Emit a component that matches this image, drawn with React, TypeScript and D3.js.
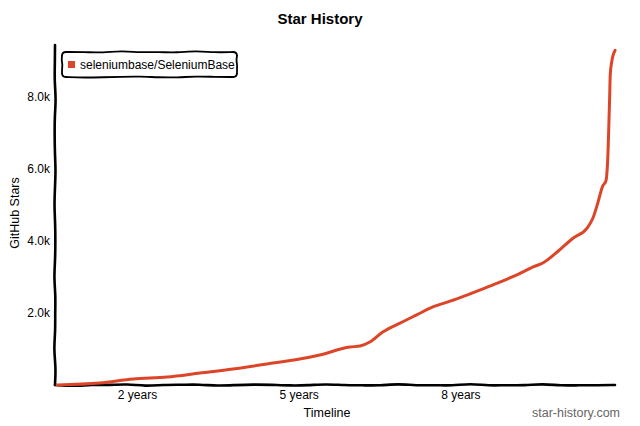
import React from "react";
import * as d3 from "d3";

const repoName = "seleniumbase/SeleniumBase";
const years = [0.51, 1.3, 1.92, 2.55, 3.16, 3.77, 4.4, 5.01, 5.38, 5.94, 6.13, 6.31, 6.55, 6.87, 7.18, 7.48, 7.8, 8.11, 8.41, 8.72, 9.04, 9.34, 9.52, 9.78, 10.08, 10.34, 10.45, 10.54, 10.63, 10.69, 10.73, 10.75, 10.76, 10.77, 10.8, 10.86];
const stars = [0, 56, 167, 222, 333, 444, 583, 722, 833, 1056, 1083, 1194, 1470, 1720, 1950, 2170, 2330, 2500, 2670, 2860, 3060, 3280, 3390, 3690, 4080, 4360, 4640, 5060, 5530, 5670, 6500, 7500, 8000, 8600, 9000, 9300];
const yTicks = [2000, 4000, 6000, 8000];
const xTicks = [2, 5, 8];

const W = 640, H = 426;
const M = { left: 55, right: 615, top: 45, bottom: 385 };

function wobble(x1: number, y1: number, x2: number, y2: number, amp: number, seed: number) {
  const len = Math.hypot(x2 - x1, y2 - y1);
  const n = Math.max(4, Math.round(len / 18));
  const nx = -(y2 - y1) / len, ny = (x2 - x1) / len;
  const pts: [number, number][] = [];
  for (let i = 0; i <= n; i++) {
    const t = i / n;
    const off = i === 0 || i === n ? 0 : amp * Math.sin(i * 2.3 + seed) * Math.cos(i * 0.7 + seed * 1.3);
    pts.push([x1 + (x2 - x1) * t + nx * off, y1 + (y2 - y1) * t + ny * off]);
  }
  return d3.line().curve(d3.curveBasis)(pts) || "";
}

export default function App() {
  const x = d3.scaleLinear().domain([0, 10.9]).range([29.7, 29.7 + 10.9 * 53.9]);
  const y = d3.scaleLinear().domain([0, 9450]).range([M.bottom, M.top]);
  const data = years.map((yr, i) => [x(yr), y(stars[i])] as [number, number]);
  const linePath = d3.line().curve(d3.curveMonotoneX)(data) || "";
  const font = "'Liberation Sans', Arial, Helvetica, sans-serif";
  const lx = 62, ly = 52, lw = 175, lh = 25;
  const legendPath = [
    wobble(lx + 4, ly, lx + lw - 4, ly, 1.2, 1),
    wobble(lx + lw, ly + 4, lx + lw, ly + lh - 4, 0.8, 2),
    wobble(lx + lw - 4, ly + lh, lx + 4, ly + lh, 1.2, 3),
    wobble(lx, ly + lh - 4, lx, ly + 4, 0.8, 4),
  ];
  return (
    <svg width={W} height={H} style={{ position: "absolute", left: 0, top: 0, background: "#fff" }} fontFamily={font}>
      <text x={320} y={24} textAnchor="middle" fontSize={15} fontWeight="bold" fill="#000">Star History</text>
      {/* axes */}
      <path d={wobble(M.left, M.top, M.left, M.bottom, 1.3, 0.5)} fill="none" stroke="#000" strokeWidth={2.6} strokeLinecap="round" />
      <path d={wobble(M.left, M.bottom, M.right, M.bottom, 1.4, 2.1)} fill="none" stroke="#000" strokeWidth={2.6} strokeLinecap="round" />
      {yTicks.map((t) => (
        <text key={t} x={50} y={y(t) + 4} textAnchor="end" fontSize={12} fill="#000">{(t / 1000).toFixed(1)}k</text>
      ))}
      {xTicks.map((t) => (
        <text key={t} x={x(t)} y={399} textAnchor="middle" fontSize={12} fill="#000">{t} years</text>
      ))}
      <text x={327} y={417} textAnchor="middle" fontSize={12.5} fill="#000">Timeline</text>
      <text transform="translate(19,213) rotate(-90)" textAnchor="middle" fontSize={12.5} fill="#000">GitHub Stars</text>
      <text x={620} y={417} textAnchor="end" fontSize={12.5} fill="#666">star-history.com</text>
      {/* line */}
      <path d={linePath} fill="none" stroke="#dd4528" strokeWidth={3} strokeLinejoin="round" strokeLinecap="round" />
      {/* legend */}
      <rect x={lx} y={ly} width={lw} height={lh} rx={4} fill="#fff" stroke="none" />
      {legendPath.map((d, i) => (
        <path key={i} d={d} fill="none" stroke="#000" strokeWidth={1.8} strokeLinecap="round" />
      ))}
      <path d={`M${lx + 4},${ly} Q${lx},${ly} ${lx},${ly + 4} M${lx + lw - 4},${ly} Q${lx + lw},${ly} ${lx + lw},${ly + 4} M${lx + lw},${ly + lh - 4} Q${lx + lw},${ly + lh} ${lx + lw - 4},${ly + lh} M${lx},${ly + lh - 4} Q${lx},${ly + lh} ${lx + 4},${ly + lh}`} fill="none" stroke="#000" strokeWidth={1.8} />
      <rect x={68} y={61} width={7} height={7} fill="#dd4528" />
      <text x={80} y={69} fontSize={12} fill="#000">{repoName}</text>
    </svg>
  );
}
